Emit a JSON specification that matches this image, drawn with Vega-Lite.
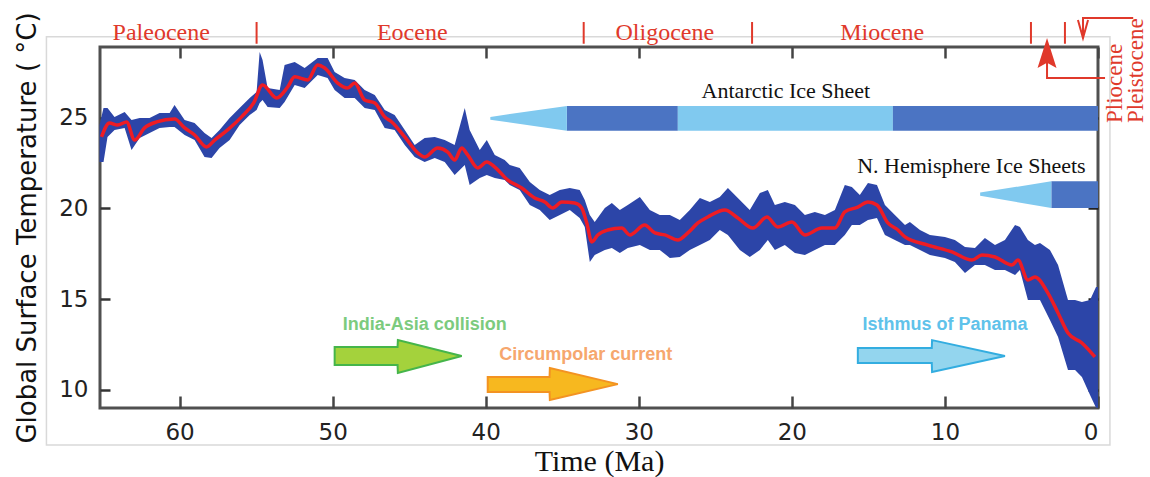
{
  "$schema": "https://vega.github.io/schema/vega-lite/v6.json",
  "width": 998,
  "height": 361,
  "autosize": {"type": "none"},
  "padding": {"left": 100, "top": 47, "right": 52, "bottom": 69},
  "background": "white",
  "config": {"view": {"stroke": "#505050", "strokeWidth": 3}},
  "datasets": {
    "frame": [{"t1": 68.7, "t2": -0.78, "T1": 29.48, "T2": 6.93}],
    "noisy": [
      {"t": 65.23, "lo": 22.57, "hi": 24.61}, {"t": 64.97, "lo": 22.57, "hi": 25.55}, {"t": 64.71, "lo": 23.95, "hi": 25.55},
      {"t": 64.25, "lo": 24.34, "hi": 25.06}, {"t": 63.59, "lo": 24.45, "hi": 25.33}, {"t": 63.14, "lo": 23.23, "hi": 24.89},
      {"t": 62.61, "lo": 23.9, "hi": 25.0}, {"t": 61.96, "lo": 24.17, "hi": 25.0}, {"t": 61.31, "lo": 24.45, "hi": 25.28},
      {"t": 60.65, "lo": 24.5, "hi": 25.28}, {"t": 60.33, "lo": 24.5, "hi": 25.72}, {"t": 59.67, "lo": 24.06, "hi": 24.89},
      {"t": 59.02, "lo": 23.78, "hi": 24.72}, {"t": 58.37, "lo": 22.85, "hi": 24.17}, {"t": 57.91, "lo": 22.79, "hi": 23.9},
      {"t": 57.39, "lo": 23.34, "hi": 24.34}, {"t": 56.73, "lo": 23.78, "hi": 25.0}, {"t": 56.08, "lo": 24.61, "hi": 25.55},
      {"t": 55.42, "lo": 25.17, "hi": 26.1}, {"t": 54.97, "lo": 25.44, "hi": 26.44}, {"t": 54.77, "lo": 25.83, "hi": 28.65},
      {"t": 54.58, "lo": 25.99, "hi": 28.2}, {"t": 54.25, "lo": 25.61, "hi": 26.66}, {"t": 53.46, "lo": 25.55, "hi": 26.55},
      {"t": 53.14, "lo": 25.88, "hi": 27.93}, {"t": 52.48, "lo": 26.82, "hi": 28.09}, {"t": 51.83, "lo": 26.66, "hi": 27.76},
      {"t": 50.98, "lo": 27.38, "hi": 28.31}, {"t": 50.33, "lo": 27.21, "hi": 28.31}, {"t": 49.87, "lo": 26.55, "hi": 27.54},
      {"t": 49.22, "lo": 26.1, "hi": 27.21}, {"t": 48.56, "lo": 26.1, "hi": 27.1}, {"t": 47.91, "lo": 25.55, "hi": 26.55},
      {"t": 47.25, "lo": 25.44, "hi": 26.27}, {"t": 46.6, "lo": 24.45, "hi": 25.44}, {"t": 45.95, "lo": 24.34, "hi": 25.17},
      {"t": 45.29, "lo": 23.51, "hi": 24.34}, {"t": 44.64, "lo": 22.85, "hi": 23.51}, {"t": 43.99, "lo": 22.57, "hi": 23.9},
      {"t": 43.33, "lo": 22.79, "hi": 23.95}, {"t": 42.68, "lo": 22.57, "hi": 23.78}, {"t": 42.03, "lo": 21.85, "hi": 23.51},
      {"t": 41.37, "lo": 22.4, "hi": 25.55}, {"t": 41.05, "lo": 21.3, "hi": 24.34}, {"t": 40.39, "lo": 21.69, "hi": 23.23},
      {"t": 39.93, "lo": 21.85, "hi": 23.78}, {"t": 39.41, "lo": 21.69, "hi": 22.96}, {"t": 38.76, "lo": 21.57, "hi": 22.68},
      {"t": 38.43, "lo": 21.3, "hi": 22.4}, {"t": 37.78, "lo": 21.02, "hi": 22.24}, {"t": 37.12, "lo": 20.19, "hi": 21.46},
      {"t": 36.47, "lo": 19.92, "hi": 21.02}, {"t": 35.82, "lo": 19.36, "hi": 20.75}, {"t": 35.16, "lo": 19.64, "hi": 21.02},
      {"t": 34.51, "lo": 19.92, "hi": 21.13}, {"t": 33.86, "lo": 19.48, "hi": 21.02}, {"t": 33.53, "lo": 18.98, "hi": 20.47},
      {"t": 33.2, "lo": 17.04, "hi": 19.64}, {"t": 32.88, "lo": 17.43, "hi": 19.25}, {"t": 32.22, "lo": 17.71, "hi": 20.03},
      {"t": 31.76, "lo": 17.82, "hi": 20.3}, {"t": 31.24, "lo": 17.54, "hi": 19.92}, {"t": 30.72, "lo": 17.82, "hi": 20.19},
      {"t": 29.93, "lo": 17.98, "hi": 20.64}, {"t": 29.28, "lo": 17.71, "hi": 19.92}, {"t": 28.63, "lo": 17.71, "hi": 19.64},
      {"t": 27.97, "lo": 17.27, "hi": 19.64}, {"t": 27.32, "lo": 17.32, "hi": 19.36}, {"t": 26.67, "lo": 17.71, "hi": 19.92},
      {"t": 26.01, "lo": 17.98, "hi": 20.58}, {"t": 25.36, "lo": 18.26, "hi": 20.36}, {"t": 24.71, "lo": 18.81, "hi": 20.64},
      {"t": 24.18, "lo": 18.54, "hi": 21.13}, {"t": 23.4, "lo": 17.71, "hi": 20.47}, {"t": 22.75, "lo": 17.32, "hi": 19.92},
      {"t": 22.09, "lo": 17.71, "hi": 20.86}, {"t": 21.57, "lo": 18.26, "hi": 21.02}, {"t": 21.11, "lo": 17.71, "hi": 20.19},
      {"t": 20.46, "lo": 17.98, "hi": 20.36}, {"t": 19.8, "lo": 17.54, "hi": 20.19}, {"t": 19.15, "lo": 17.43, "hi": 19.64},
      {"t": 18.5, "lo": 17.71, "hi": 19.81}, {"t": 17.84, "lo": 17.98, "hi": 19.64}, {"t": 17.19, "lo": 17.98, "hi": 19.92},
      {"t": 16.54, "lo": 18.54, "hi": 21.3}, {"t": 16.08, "lo": 19.09, "hi": 21.19}, {"t": 15.56, "lo": 19.09, "hi": 20.75},
      {"t": 15.03, "lo": 19.36, "hi": 21.41}, {"t": 14.44, "lo": 19.48, "hi": 21.3}, {"t": 13.92, "lo": 18.54, "hi": 20.19},
      {"t": 13.27, "lo": 18.26, "hi": 19.64}, {"t": 12.61, "lo": 17.98, "hi": 19.09}, {"t": 12.29, "lo": 17.98, "hi": 19.25},
      {"t": 11.63, "lo": 17.71, "hi": 18.81}, {"t": 10.98, "lo": 17.43, "hi": 18.54}, {"t": 10.0, "lo": 17.27, "hi": 18.43},
      {"t": 9.35, "lo": 17.04, "hi": 18.26}, {"t": 8.69, "lo": 16.44, "hi": 17.87}, {"t": 8.04, "lo": 16.88, "hi": 17.82},
      {"t": 7.39, "lo": 16.88, "hi": 18.37}, {"t": 6.73, "lo": 16.6, "hi": 17.98}, {"t": 6.08, "lo": 16.6, "hi": 18.26},
      {"t": 5.42, "lo": 16.33, "hi": 19.09}, {"t": 5.1, "lo": 16.6, "hi": 18.98}, {"t": 4.58, "lo": 14.94, "hi": 18.26},
      {"t": 4.12, "lo": 14.94, "hi": 17.98}, {"t": 3.79, "lo": 14.94, "hi": 18.09}, {"t": 3.14, "lo": 13.84, "hi": 17.71},
      {"t": 2.61, "lo": 12.9, "hi": 16.88}, {"t": 1.96, "lo": 11.08, "hi": 14.94}, {"t": 1.5, "lo": 11.08, "hi": 14.94},
      {"t": 1.05, "lo": 10.69, "hi": 14.83}, {"t": 0.52, "lo": 9.7, "hi": 14.94}, {"t": 0.13, "lo": 9.0, "hi": 15.66},
      {"t": 0.0, "lo": 9.0, "hi": 15.66}
    ],
    "smooth": [
      {"t": 65.1, "temp": 23.95}, {"t": 64.58, "temp": 24.72}, {"t": 64.05, "temp": 24.61}, {"t": 63.46, "temp": 24.78},
      {"t": 62.94, "temp": 23.78}, {"t": 62.29, "temp": 24.45}, {"t": 61.5, "temp": 24.78}, {"t": 60.33, "temp": 24.94},
      {"t": 59.67, "temp": 24.45}, {"t": 59.02, "temp": 24.06}, {"t": 58.24, "temp": 23.4}, {"t": 57.71, "temp": 23.78},
      {"t": 56.86, "temp": 24.34}, {"t": 55.95, "temp": 25.06}, {"t": 55.16, "temp": 25.83}, {"t": 54.58, "temp": 26.82},
      {"t": 53.66, "temp": 26.1}, {"t": 52.94, "temp": 26.71}, {"t": 52.48, "temp": 27.27}, {"t": 51.63, "temp": 27.1},
      {"t": 50.98, "temp": 27.93}, {"t": 50.52, "temp": 27.76}, {"t": 49.67, "temp": 26.93}, {"t": 49.02, "temp": 26.66},
      {"t": 48.56, "temp": 26.93}, {"t": 47.91, "temp": 25.99}, {"t": 47.25, "temp": 25.83}, {"t": 46.6, "temp": 25.06},
      {"t": 46.14, "temp": 24.78}, {"t": 45.29, "temp": 23.95}, {"t": 44.44, "temp": 23.07}, {"t": 43.99, "temp": 22.85},
      {"t": 43.14, "temp": 23.34}, {"t": 42.48, "temp": 23.12}, {"t": 42.03, "temp": 22.68}, {"t": 41.57, "temp": 23.34},
      {"t": 41.18, "temp": 22.96}, {"t": 40.52, "temp": 22.24}, {"t": 39.93, "temp": 22.57}, {"t": 39.41, "temp": 22.29},
      {"t": 38.56, "temp": 21.57}, {"t": 37.65, "temp": 21.13}, {"t": 36.8, "temp": 20.58}, {"t": 36.14, "temp": 20.36},
      {"t": 35.62, "temp": 20.03}, {"t": 35.03, "temp": 20.36}, {"t": 34.18, "temp": 20.3}, {"t": 33.73, "temp": 20.03},
      {"t": 33.4, "temp": 19.2}, {"t": 33.07, "temp": 18.15}, {"t": 32.68, "temp": 18.54}, {"t": 32.03, "temp": 18.81},
      {"t": 31.11, "temp": 18.92}, {"t": 30.59, "temp": 18.54}, {"t": 29.61, "temp": 19.09}, {"t": 28.95, "temp": 18.65},
      {"t": 28.3, "temp": 18.54}, {"t": 27.45, "temp": 18.26}, {"t": 26.8, "temp": 18.65}, {"t": 26.14, "temp": 19.2},
      {"t": 25.49, "temp": 19.53}, {"t": 24.38, "temp": 19.92}, {"t": 23.53, "temp": 19.48}, {"t": 22.55, "temp": 18.92},
      {"t": 21.63, "temp": 19.53}, {"t": 20.92, "temp": 18.98}, {"t": 20.0, "temp": 19.25}, {"t": 19.15, "temp": 18.54},
      {"t": 18.04, "temp": 18.92}, {"t": 17.19, "temp": 18.92}, {"t": 16.54, "temp": 19.81}, {"t": 15.69, "temp": 20.08},
      {"t": 15.03, "temp": 20.36}, {"t": 14.44, "temp": 20.19}, {"t": 13.73, "temp": 19.2}, {"t": 13.07, "temp": 18.81},
      {"t": 12.61, "temp": 18.43}, {"t": 11.11, "temp": 17.98}, {"t": 9.54, "temp": 17.6}, {"t": 8.24, "temp": 17.15},
      {"t": 7.58, "temp": 17.43}, {"t": 6.73, "temp": 17.32}, {"t": 5.62, "temp": 16.88}, {"t": 5.23, "temp": 17.15},
      {"t": 4.58, "temp": 16.05}, {"t": 4.12, "temp": 16.22}, {"t": 3.27, "temp": 15.33}, {"t": 2.61, "temp": 14.23},
      {"t": 1.96, "temp": 13.12}, {"t": 1.05, "temp": 12.57}, {"t": 0.2, "temp": 11.8}
    ],
    "iceBars": [
      {"sheet": "Antarctic", "start": 34.7, "end": 27.45, "lo": 24.3, "hi": 25.66, "ice": "full"},
      {"sheet": "Antarctic", "start": 27.45, "end": 13.4, "lo": 24.3, "hi": 25.66, "ice": "partial"},
      {"sheet": "Antarctic", "start": 13.4, "end": 0, "lo": 24.3, "hi": 25.66, "ice": "full"},
      {"sheet": "NH", "start": 3.05, "end": 0, "lo": 20.03, "hi": 21.5, "ice": "full"}
    ],
    "iceTaper": [
      {"sheet": "Antarctic", "t": 39.7, "lo": 24.9, "hi": 25.06},
      {"sheet": "Antarctic", "t": 34.7, "lo": 24.3, "hi": 25.66},
      {"sheet": "NH", "t": 7.7, "lo": 20.7, "hi": 20.88},
      {"sheet": "NH", "t": 3.05, "lo": 20.03, "hi": 21.5}
    ],
    "arrows": [
      {"event": "India-Asia collision", "t": 41.57, "lo": 11.85, "hi": 11.85},
      {"event": "India-Asia collision", "t": 45.74, "lo": 10.91, "hi": 12.73},
      {"event": "India-Asia collision", "t": 45.76, "lo": 11.35, "hi": 12.35},
      {"event": "India-Asia collision", "t": 49.87, "lo": 11.35, "hi": 12.35},
      {"event": "Circumpolar current", "t": 31.37, "lo": 10.3, "hi": 10.3},
      {"event": "Circumpolar current", "t": 35.81, "lo": 9.42, "hi": 11.19},
      {"event": "Circumpolar current", "t": 35.83, "lo": 9.86, "hi": 10.69},
      {"event": "Circumpolar current", "t": 39.87, "lo": 9.86, "hi": 10.69},
      {"event": "Isthmus of Panama", "t": 6.08, "lo": 11.85, "hi": 11.85},
      {"event": "Isthmus of Panama", "t": 10.84, "lo": 10.97, "hi": 12.73},
      {"event": "Isthmus of Panama", "t": 10.86, "lo": 11.46, "hi": 12.29},
      {"event": "Isthmus of Panama", "t": 15.69, "lo": 11.46, "hi": 12.29}
    ],
    "eventLabels": [
      {"event": "India-Asia collision", "t": 43.99, "temp": 13.29},
      {"event": "Circumpolar current", "t": 33.46, "temp": 11.63},
      {"event": "Isthmus of Panama", "t": 10.0, "temp": 13.29}
    ],
    "iceLabels": [
      {"label": "Antarctic Ice Sheet", "t": 20.39, "temp": 26.1},
      {"label": "N. Hemisphere Ice Sheets", "t": 8.27, "temp": 21.96}
    ],
    "epochs": [
      {"epoch": "Paleocene", "t": 61.2, "temp": 29.31},
      {"epoch": "Eocene", "t": 44.8, "temp": 29.31},
      {"epoch": "Oligocene", "t": 28.3, "temp": 29.31},
      {"epoch": "Miocene", "t": 14.1, "temp": 29.31}
    ],
    "epochsRotated": [
      {"epoch": "Pliocene", "t": -1.11, "temp": 24.72},
      {"epoch": "Pleistocene", "t": -2.48, "temp": 24.72}
    ],
    "boundaries": [
      {"t": 54.97, "lo": 29.1, "hi": 30.3}, {"t": 33.6, "lo": 29.1, "hi": 30.3}, {"t": 22.6, "lo": 29.1, "hi": 30.3},
      {"t": 4.38, "lo": 29.1, "hi": 30.3}, {"t": 2.16, "lo": 29.1, "hi": 30.3}
    ],
    "pointers": [
      {"g": "Pliocene", "ord": 1, "t": -0.46, "temp": 27.21},
      {"g": "Pliocene", "ord": 2, "t": 3.33, "temp": 27.21},
      {"g": "Pliocene", "ord": 3, "t": 3.33, "temp": 28.3},
      {"g": "Pleistocene", "ord": 1, "t": -2.3, "temp": 30.52},
      {"g": "Pleistocene", "ord": 2, "t": 0.98, "temp": 30.52},
      {"g": "Pleistocene", "ord": 3, "t": 0.98, "temp": 29.42},
      {"g": "PleistoceneHead", "ord": 1, "t": 1.31, "temp": 30.41},
      {"g": "PleistoceneHead", "ord": 2, "t": 0.98, "temp": 29.42},
      {"g": "PleistoceneHead", "ord": 3, "t": 0.65, "temp": 30.41}
    ],
    "plioHead": [
      {"t": 3.95, "lo": 27.76, "hi": 27.76},
      {"t": 3.33, "lo": 28.05, "hi": 29.42},
      {"t": 2.71, "lo": 27.76, "hi": 27.76}
    ]
  },
  "resolve": {"axis": {"x": "independent", "y": "independent"}, "scale": {"color": "independent", "fill": "independent", "stroke": "independent"}},
  "layer": [
    {
      "data": {"name": "frame"},
      "mark": {"type": "rect", "filled": false, "color": "#d9d9d9", "strokeWidth": 1.5},
      "encoding": {
        "x": {"field": "t1", "type": "quantitative", "scale": {"domain": [65.2, 0], "nice": false, "zero": false}, "axis": null},
        "x2": {"field": "t2"},
        "y": {"field": "T1", "type": "quantitative", "scale": {"domain": [8.98, 28.92], "nice": false, "zero": false}, "axis": null},
        "y2": {"field": "T2"}
      }
    },
    {
      "data": {"name": "noisy"},
      "mark": {"type": "area", "color": "#2c45a8", "opacity": 1},
      "encoding": {
        "x": {"field": "t", "type": "quantitative", "scale": {"domain": [65.2, 0], "nice": false, "zero": false},
          "axis": {"orient": "bottom", "values": [60, 50, 40, 30, 20, 10, 0], "title": "Time (Ma)", "titleFont": "Liberation Serif", "titleFontSize": 30, "titleFontWeight": "normal", "titleColor": "#111111", "titlePadding": 2, "labelFont": "DejaVu Sans", "labelFontSize": 23, "labelColor": "#222222", "tickSize": -12, "tickWidth": 2.5, "tickColor": "#444444", "labelPadding": 25, "domain": false, "grid": false}},
        "y": {"field": "lo", "type": "quantitative", "scale": {"domain": [8.98, 28.92], "nice": false, "zero": false},
          "axis": {"orient": "left", "values": [10, 15, 20, 25], "title": "Global Surface Temperature ( °C)", "titleFont": "DejaVu Sans", "titleFontSize": 26, "titleFontWeight": "normal", "titleColor": "#111111", "titlePadding": 18, "labelFont": "DejaVu Sans", "labelFontSize": 23, "labelColor": "#222222", "tickSize": -10, "tickWidth": 2.5, "tickColor": "#333333", "labelPadding": 22, "domain": false, "grid": false}},
        "y2": {"field": "hi"}
      }
    },
    {
      "data": {"name": "smooth"},
      "mark": {"type": "line", "color": "#ee1c24", "strokeWidth": 3.5, "interpolate": "monotone"},
      "encoding": {
        "x": {"field": "t", "type": "quantitative", "scale": {"domain": [65.2, 0], "nice": false, "zero": false},
          "axis": {"orient": "top", "values": [60, 50, 40, 30, 20, 10, 0], "labels": false, "title": null, "tickSize": -11, "tickWidth": 2.5, "tickColor": "#444444", "domain": false, "grid": false}},
        "y": {"field": "temp", "type": "quantitative", "scale": {"domain": [8.98, 28.92], "nice": false, "zero": false},
          "axis": {"orient": "right", "values": [10, 15, 20, 25], "labels": false, "title": null, "tickSize": -10, "tickWidth": 2.5, "tickColor": "#222222", "domain": false, "grid": false}}
      }
    },
    {
      "data": {"name": "iceBars"},
      "mark": {"type": "rect"},
      "encoding": {
        "x": {"field": "start", "type": "quantitative", "scale": {"domain": [65.2, 0], "nice": false, "zero": false}, "axis": null},
        "x2": {"field": "end"},
        "y": {"field": "lo", "type": "quantitative", "scale": {"domain": [8.98, 28.92], "nice": false, "zero": false}, "axis": null},
        "y2": {"field": "hi"},
        "color": {"field": "ice", "type": "nominal", "scale": {"domain": ["partial", "full"], "range": ["#80c9ef", "#4b74c3"]}, "legend": null}
      }
    },
    {
      "data": {"name": "iceTaper"},
      "mark": {"type": "area", "color": "#80c9ef"},
      "encoding": {
        "x": {"field": "t", "type": "quantitative", "scale": {"domain": [65.2, 0], "nice": false, "zero": false}, "axis": null},
        "y": {"field": "lo", "type": "quantitative", "scale": {"domain": [8.98, 28.92], "nice": false, "zero": false}, "axis": null},
        "y2": {"field": "hi"},
        "detail": {"field": "sheet"}
      }
    },
    {
      "data": {"name": "arrows"},
      "mark": {"type": "area", "strokeWidth": 2, "strokeJoin": "miter"},
      "encoding": {
        "x": {"field": "t", "type": "quantitative", "scale": {"domain": [65.2, 0], "nice": false, "zero": false}, "axis": null},
        "y": {"field": "lo", "type": "quantitative", "scale": {"domain": [8.98, 28.92], "nice": false, "zero": false}, "axis": null},
        "y2": {"field": "hi"},
        "fill": {"field": "event", "type": "nominal", "scale": {"domain": ["India-Asia collision", "Circumpolar current", "Isthmus of Panama"], "range": ["#a4d23c", "#f7b81f", "#93d5ee"]}, "legend": null},
        "stroke": {"field": "event", "type": "nominal", "scale": {"domain": ["India-Asia collision", "Circumpolar current", "Isthmus of Panama"], "range": ["#45b54a", "#f39322", "#33ade0"]}, "legend": null}
      }
    },
    {
      "data": {"name": "eventLabels"},
      "mark": {"type": "text", "font": "Liberation Sans", "fontWeight": "bold", "fontSize": 18, "baseline": "alphabetic", "align": "center"},
      "encoding": {
        "x": {"field": "t", "type": "quantitative", "scale": {"domain": [65.2, 0], "nice": false, "zero": false}, "axis": null},
        "y": {"field": "temp", "type": "quantitative", "scale": {"domain": [8.98, 28.92], "nice": false, "zero": false}, "axis": null},
        "text": {"field": "event"},
        "color": {"field": "event", "type": "nominal", "scale": {"domain": ["India-Asia collision", "Circumpolar current", "Isthmus of Panama"], "range": ["#7ccb7e", "#f6a76e", "#5fc2ea"]}, "legend": null}
      }
    },
    {
      "data": {"name": "iceLabels"},
      "mark": {"type": "text", "font": "Liberation Serif", "fontSize": 22, "baseline": "alphabetic", "align": "center", "color": "#111111"},
      "encoding": {
        "x": {"field": "t", "type": "quantitative", "scale": {"domain": [65.2, 0], "nice": false, "zero": false}, "axis": null},
        "y": {"field": "temp", "type": "quantitative", "scale": {"domain": [8.98, 28.92], "nice": false, "zero": false}, "axis": null},
        "text": {"field": "label"}
      }
    },
    {
      "data": {"name": "epochs"},
      "mark": {"type": "text", "font": "Liberation Serif", "fontSize": 24, "baseline": "alphabetic", "align": "center", "color": "#e0392b"},
      "encoding": {
        "x": {"field": "t", "type": "quantitative", "scale": {"domain": [65.2, 0], "nice": false, "zero": false}, "axis": null},
        "y": {"field": "temp", "type": "quantitative", "scale": {"domain": [8.98, 28.92], "nice": false, "zero": false}, "axis": null},
        "text": {"field": "epoch"}
      }
    },
    {
      "data": {"name": "epochsRotated"},
      "mark": {"type": "text", "font": "Liberation Serif", "fontSize": 23, "baseline": "middle", "align": "left", "angle": 270, "color": "#e0392b"},
      "encoding": {
        "x": {"field": "t", "type": "quantitative", "scale": {"domain": [65.2, 0], "nice": false, "zero": false}, "axis": null},
        "y": {"field": "temp", "type": "quantitative", "scale": {"domain": [8.98, 28.92], "nice": false, "zero": false}, "axis": null},
        "text": {"field": "epoch"}
      }
    },
    {
      "data": {"name": "boundaries"},
      "mark": {"type": "rule", "color": "#e0392b", "strokeWidth": 2},
      "encoding": {
        "x": {"field": "t", "type": "quantitative", "scale": {"domain": [65.2, 0], "nice": false, "zero": false}, "axis": null},
        "y": {"field": "lo", "type": "quantitative", "scale": {"domain": [8.98, 28.92], "nice": false, "zero": false}, "axis": null},
        "y2": {"field": "hi"}
      }
    },
    {
      "data": {"name": "pointers"},
      "mark": {"type": "line", "color": "#e0392b", "strokeWidth": 2},
      "encoding": {
        "x": {"field": "t", "type": "quantitative", "scale": {"domain": [65.2, 0], "nice": false, "zero": false}, "axis": null},
        "y": {"field": "temp", "type": "quantitative", "scale": {"domain": [8.98, 28.92], "nice": false, "zero": false}, "axis": null},
        "detail": {"field": "g"},
        "order": {"field": "ord", "type": "quantitative"}
      }
    },
    {
      "data": {"name": "plioHead"},
      "mark": {"type": "area", "color": "#e0392b"},
      "encoding": {
        "x": {"field": "t", "type": "quantitative", "scale": {"domain": [65.2, 0], "nice": false, "zero": false}, "axis": null},
        "y": {"field": "lo", "type": "quantitative", "scale": {"domain": [8.98, 28.92], "nice": false, "zero": false}, "axis": null},
        "y2": {"field": "hi"}
      }
    }
  ]
}
